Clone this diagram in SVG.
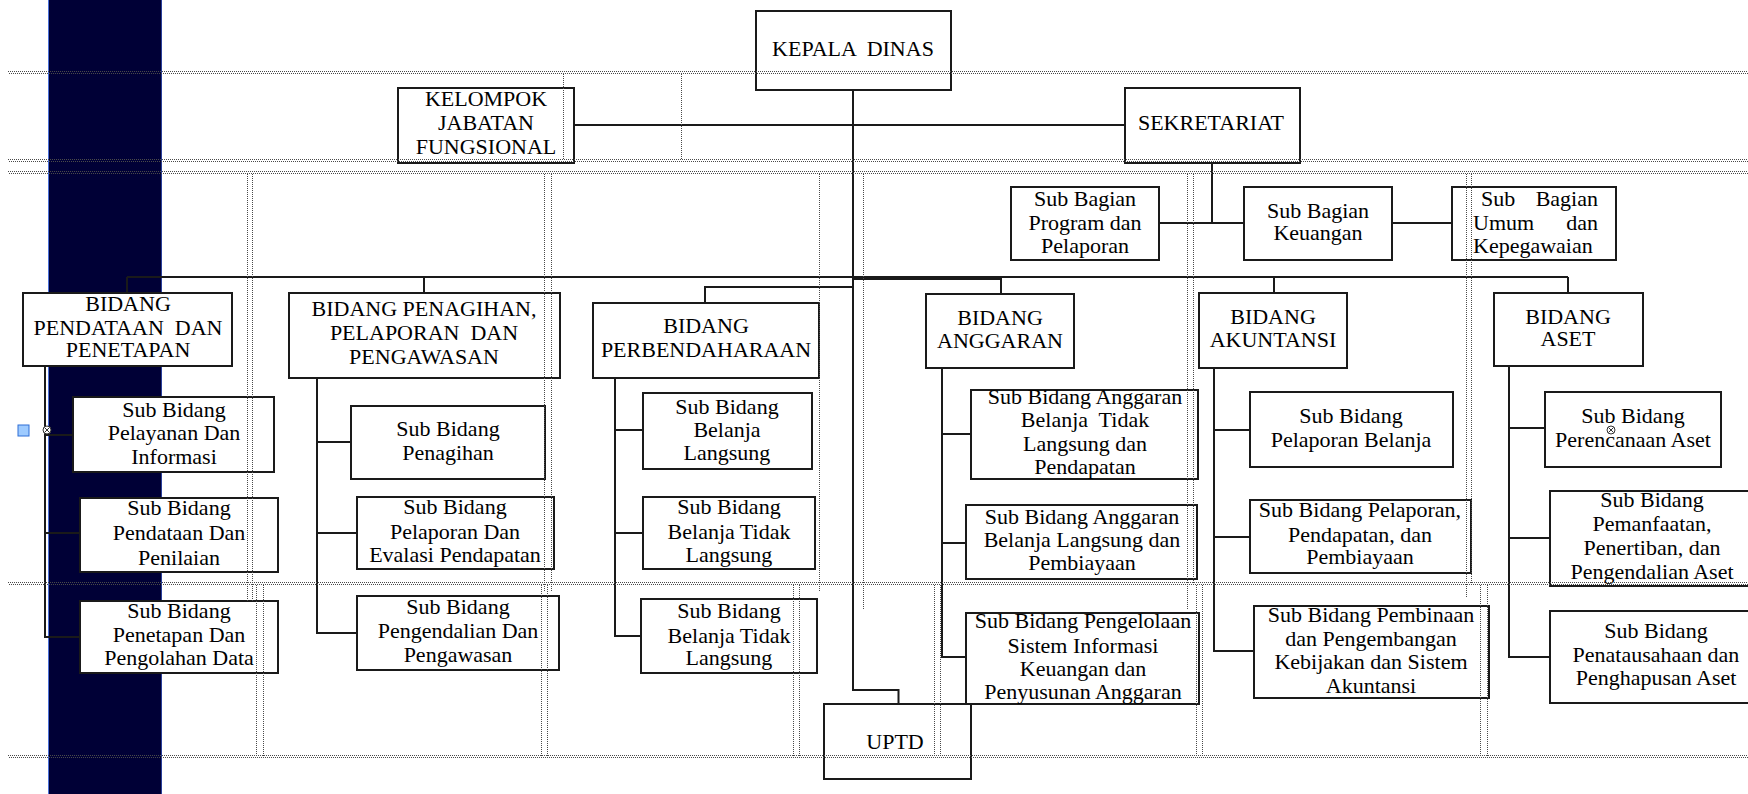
<svg xmlns="http://www.w3.org/2000/svg" width="1748" height="794" viewBox="0 0 1748 794">
<style>
.box{fill:#fff;stroke:#1a1a1a;stroke-width:2}
.t{font-family:"Liberation Serif","Times New Roman",serif;font-size:22px;fill:#000;text-anchor:middle;white-space:pre}
.ts{font-family:"Liberation Serif","Times New Roman",serif;font-size:22px;fill:#000;white-space:pre}
.ln{stroke:#1a1a1a;stroke-width:2;fill:none}
.grid{stroke:#4a4a4a;stroke-width:1;stroke-dasharray:1 1;fill:none;shape-rendering:crispEdges}
.mark{fill:#fff;stroke:#333;stroke-width:1}
</style>
<rect width="1748" height="794" fill="#fff"/>
<g id="sidebar">
<rect x="48" y="0" width="114" height="794" fill="#000036"/>
<line x1="48.5" y1="0" x2="48.5" y2="794" stroke="#4a6fd8" stroke-width="1"/>
<line x1="161.5" y1="0" x2="161.5" y2="794" stroke="#2a3f9a" stroke-width="1"/>
</g>

<g id="connectors">
<polyline class="ln" points="853,90 853,690 898.5,690 898.5,704"/>
<line class="ln" x1="574" y1="125" x2="1125" y2="125"/>
<line class="ln" x1="1212" y1="163" x2="1212" y2="223"/>
<line class="ln" x1="1159" y1="223" x2="1244" y2="223"/>
<line class="ln" x1="1392" y1="223" x2="1452" y2="223"/>
<line class="ln" x1="127" y1="277" x2="1568" y2="277"/>
<line class="ln" x1="853" y1="279" x2="1001" y2="279"/>
<line class="ln" x1="127" y1="277" x2="127" y2="293"/>
<line class="ln" x1="424" y1="277" x2="424" y2="293"/>
<polyline class="ln" points="853,287 705,287 705,303"/>
<line class="ln" x1="1001" y1="277" x2="1001" y2="294"/>
<line class="ln" x1="1274" y1="277" x2="1274" y2="293"/>
<line class="ln" x1="1568" y1="277" x2="1568" y2="293"/>
<polyline class="ln" points="45,366 45,637 80,637"/>
<line class="ln" x1="45" y1="435" x2="73" y2="435"/>
<line class="ln" x1="45" y1="533" x2="80" y2="533"/>
<polyline class="ln" points="317,378 317,633 357,633"/>
<line class="ln" x1="317" y1="442" x2="351" y2="442"/>
<line class="ln" x1="317" y1="533" x2="357" y2="533"/>
<polyline class="ln" points="615,378 615,636 641,636"/>
<line class="ln" x1="615" y1="430" x2="643" y2="430"/>
<line class="ln" x1="615" y1="533" x2="643" y2="533"/>
<polyline class="ln" points="942,368 942,657 966,657"/>
<line class="ln" x1="942" y1="434" x2="971" y2="434"/>
<line class="ln" x1="942" y1="543" x2="966" y2="543"/>
<polyline class="ln" points="1214,368 1214,651 1254,651"/>
<line class="ln" x1="1214" y1="430" x2="1250" y2="430"/>
<line class="ln" x1="1214" y1="537" x2="1250" y2="537"/>
<polyline class="ln" points="1509,366 1509,657 1550,657"/>
<line class="ln" x1="1509" y1="428" x2="1545" y2="428"/>
<line class="ln" x1="1509" y1="538" x2="1550" y2="538"/>
</g>

<g id="kepala-dinas"><rect class="box" x="756" y="11" width="195" height="79"/><text class="t" x="853" y="56">KEPALA  DINAS</text></g>
<g id="kelompok-jabatan-fungsional"><rect class="box" x="398" y="88" width="176" height="75"/><text class="t" x="486" y="106">KELOMPOK</text><text class="t" x="486" y="130">JABATAN</text><text class="t" x="486" y="154">FUNGSIONAL</text></g>
<g id="sekretariat"><rect class="box" x="1125" y="88" width="175" height="75"/><text class="t" x="1211" y="130">SEKRETARIAT</text></g>
<g id="sub-bagian-program"><rect class="box" x="1011" y="187" width="148" height="73"/><text class="t" x="1085" y="206">Sub Bagian</text><text class="t" x="1085" y="230">Program dan</text><text class="t" x="1085" y="253">Pelaporan</text></g>
<g id="sub-bagian-keuangan"><rect class="box" x="1244" y="187" width="148" height="73"/><text class="t" x="1318" y="218">Sub Bagian</text><text class="t" x="1318" y="240">Keuangan</text></g>
<g id="sub-bagian-umum"><rect class="box" x="1452" y="187" width="164" height="73"/><text class="ts" x="1481" y="206">Sub</text><text class="ts" x="1598" y="206" text-anchor="end">Bagian</text><text class="ts" x="1473" y="230">Umum</text><text class="ts" x="1598" y="230" text-anchor="end">dan</text><text class="ts" x="1473" y="253">Kepegawaian</text></g>

<g id="bidang-pendataan"><rect class="box" x="23" y="293" width="209" height="73"/><text class="t" x="128" y="311">BIDANG</text><text class="t" x="128" y="335">PENDATAAN  DAN</text><text class="t" x="128" y="357">PENETAPAN</text></g>
<g id="bidang-penagihan"><rect class="box" x="289" y="293" width="271" height="85"/><text class="t" x="424" y="316">BIDANG PENAGIHAN,</text><text class="t" x="424" y="340">PELAPORAN  DAN</text><text class="t" x="424" y="364">PENGAWASAN</text></g>
<g id="bidang-perbendaharaan"><rect class="box" x="593" y="303" width="226" height="75"/><text class="t" x="706" y="333">BIDANG</text><text class="t" x="706" y="357">PERBENDAHARAAN</text></g>
<g id="bidang-anggaran"><rect class="box" x="926" y="294" width="148" height="74"/><text class="t" x="1000" y="325">BIDANG</text><text class="t" x="1000" y="348">ANGGARAN</text></g>
<g id="bidang-akuntansi"><rect class="box" x="1199" y="293" width="148" height="75"/><text class="t" x="1273" y="324">BIDANG</text><text class="t" x="1273" y="347">AKUNTANSI</text></g>
<g id="bidang-aset"><rect class="box" x="1494" y="293" width="149" height="73"/><text class="t" x="1568" y="324">BIDANG</text><text class="t" x="1568" y="346">ASET</text></g>

<g id="sb-pelayanan"><rect class="box" x="73" y="397" width="201" height="75"/><text class="t" x="174" y="417">Sub Bidang</text><text class="t" x="174" y="440">Pelayanan Dan</text><text class="t" x="174" y="464">Informasi</text></g>
<g id="sb-pendataan"><rect class="box" x="80" y="498" width="198" height="74"/><text class="t" x="179" y="515">Sub Bidang</text><text class="t" x="179" y="540">Pendataan Dan</text><text class="t" x="179" y="565">Penilaian</text></g>
<g id="sb-penetapan"><rect class="box" x="80" y="601" width="198" height="72"/><text class="t" x="179" y="618">Sub Bidang</text><text class="t" x="179" y="642">Penetapan Dan</text><text class="t" x="179" y="665">Pengolahan Data</text></g>

<g id="sb-penagihan"><rect class="box" x="351" y="406" width="194" height="73"/><text class="t" x="448" y="436">Sub Bidang</text><text class="t" x="448" y="460">Penagihan</text></g>
<g id="sb-pelaporan-evaluasi"><rect class="box" x="357" y="497" width="197" height="72"/><text class="t" x="455" y="514">Sub Bidang</text><text class="t" x="455" y="539">Pelaporan Dan</text><text class="t" x="455" y="562">Evalasi Pendapatan</text></g>
<g id="sb-pengendalian"><rect class="box" x="357" y="596" width="202" height="74"/><text class="t" x="458" y="614">Sub Bidang</text><text class="t" x="458" y="638">Pengendalian Dan</text><text class="t" x="458" y="662">Pengawasan</text></g>

<g id="sb-belanja-langsung"><rect class="box" x="643" y="393" width="169" height="76"/><text class="t" x="727" y="414">Sub Bidang</text><text class="t" x="727" y="437">Belanja</text><text class="t" x="727" y="460">Langsung</text></g>
<g id="sb-belanja-tidak-langsung-1"><rect class="box" x="643" y="497" width="172" height="72"/><text class="t" x="729" y="514">Sub Bidang</text><text class="t" x="729" y="539">Belanja Tidak</text><text class="t" x="729" y="562">Langsung</text></g>
<g id="sb-belanja-tidak-langsung-2"><rect class="box" x="641" y="599" width="176" height="74"/><text class="t" x="729" y="618">Sub Bidang</text><text class="t" x="729" y="643">Belanja Tidak</text><text class="t" x="729" y="665">Langsung</text></g>

<g id="sb-anggaran-btl"><rect class="box" x="971" y="390" width="227" height="89"/><text class="t" x="1085" y="404">Sub Bidang Anggaran</text><text class="t" x="1085" y="427">Belanja  Tidak</text><text class="t" x="1085" y="451">Langsung dan</text><text class="t" x="1085" y="474">Pendapatan</text></g>
<g id="sb-anggaran-bl"><rect class="box" x="966" y="505" width="231" height="74"/><text class="t" x="1082" y="524">Sub Bidang Anggaran</text><text class="t" x="1082" y="547">Belanja Langsung dan</text><text class="t" x="1082" y="570">Pembiayaan</text></g>
<g id="sb-pengelolaan-sik"><rect class="box" x="966" y="613" width="233" height="91"/><text class="t" x="1083" y="628">Sub Bidang Pengelolaan</text><text class="t" x="1083" y="653">Sistem Informasi</text><text class="t" x="1083" y="676">Keuangan dan</text><text class="t" x="1083" y="699">Penyusunan Anggaran</text></g>

<g id="sb-pelaporan-belanja"><rect class="box" x="1250" y="392" width="203" height="75"/><text class="t" x="1351" y="423">Sub Bidang</text><text class="t" x="1351" y="447">Pelaporan Belanja</text></g>
<g id="sb-pelaporan-pendapatan"><rect class="box" x="1250" y="500" width="221" height="73"/><text class="t" x="1360" y="517">Sub Bidang Pelaporan,</text><text class="t" x="1360" y="542">Pendapatan, dan</text><text class="t" x="1360" y="564">Pembiayaan</text></g>
<g id="sb-pembinaan"><rect class="box" x="1254" y="606" width="235" height="92"/><text class="t" x="1371" y="622">Sub Bidang Pembinaan</text><text class="t" x="1371" y="646">dan Pengembangan</text><text class="t" x="1371" y="669">Kebijakan dan Sistem</text><text class="t" x="1371" y="693">Akuntansi</text></g>

<g id="sb-perencanaan-aset"><rect class="box" x="1545" y="392" width="176" height="75"/><text class="t" x="1633" y="423">Sub Bidang</text><text class="t" x="1633" y="447">Perencanaan Aset</text></g>
<g id="sb-pemanfaatan"><rect class="box" x="1550" y="491" width="210" height="95"/><text class="t" x="1652" y="507">Sub Bidang</text><text class="t" x="1652" y="531">Pemanfaatan,</text><text class="t" x="1652" y="555">Penertiban, dan</text><text class="t" x="1652" y="579">Pengendalian Aset</text></g>
<g id="sb-penatausahaan"><rect class="box" x="1550" y="611" width="210" height="92"/><text class="t" x="1656" y="638">Sub Bidang</text><text class="t" x="1656" y="662">Penatausahaan dan</text><text class="t" x="1656" y="685">Penghapusan Aset</text></g>

<g id="uptd"><rect class="box" x="824" y="704" width="147" height="75"/><text class="t" x="895" y="749">UPTD</text></g>

<g id="table-grid">
<path class="grid" d="M8 71.5H1748M9 73.5H1748M8 159.5H1748M9 161.5H1748M8 171.5H1748M9 173.5H1748M8 582.5H1748M9 584.5H1748M8 755.5H1748M9 757.5H1748"/>
<path class="grid" d="M563.5 74V160M681.5 74V160"/>
<path class="grid" d="M247.5 174V602M252.5 174V602M544.5 174V592M551.5 174V592M819.5 174V592M863.5 174V610M1187.5 174V610M1193.5 174V583M1466.5 174V597M1471.5 174V583"/>
<path class="grid" d="M256.5 585V756M263.5 585V756M541.5 585V756M547.5 585V756M793.5 585V756M799.5 585V756M934.5 585V756M940.5 585V756M1196.5 585V756M1202.5 585V756M1480.5 585V756M1487.5 585V756"/>
</g>

<g id="selection-marks">
<rect x="18" y="425" width="11" height="11" fill="#9ecbff" stroke="#2f6fd6" stroke-width="1"/>
<circle class="mark" cx="47" cy="430" r="4"/>
<path d="M44.5 427.5l5 5M49.5 427.5l-5 5" stroke="#333" stroke-width="1"/>
<circle class="mark" cx="1611" cy="430" r="4"/>
<path d="M1608.5 427.5l5 5M1613.5 427.5l-5 5" stroke="#333" stroke-width="1"/>
</g>
</svg>
